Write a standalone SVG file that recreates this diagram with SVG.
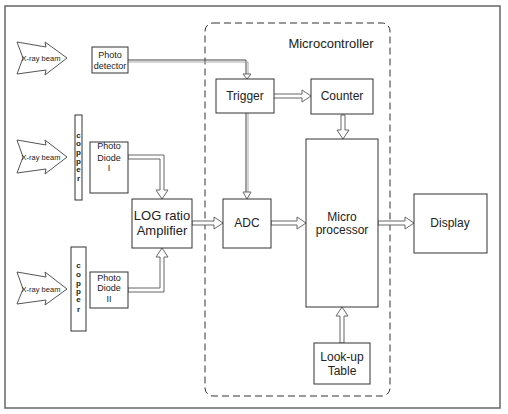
<svg xmlns="http://www.w3.org/2000/svg" width="508" height="414" viewBox="0 0 508 414">
<style>
.box{fill:#fff;stroke:#333;stroke-width:1}
.t{font-family:"Liberation Sans",Arial,sans-serif;fill:#222;text-anchor:middle}
.s9{font-size:9px}
.s12{font-size:12px}
.s13{font-size:13px}
.xr{fill:#fff;stroke:#555;stroke-width:1}
.ha{fill:#fff;stroke:#666;stroke-width:1}
.ln{fill:none;stroke:#444;stroke-width:1}
.ln2{fill:none;stroke:#aaa;stroke-width:1}
.cu{font-family:"Liberation Sans",Arial,sans-serif;font-size:8px;font-weight:bold;fill:#222;text-anchor:middle}
</style>
<rect x="0" y="0" width="508" height="414" fill="#fff"/>
<rect x="5" y="6" width="495" height="402" fill="none" stroke="#666" stroke-width="1.5"/>

<g id="microcontroller">
<rect x="205" y="23" width="185" height="373" rx="8" fill="none" stroke="#333" stroke-width="1" stroke-dasharray="7,4"/>
<text class="t s13" x="331" y="48">Microcontroller</text>
</g>

<g id="connectors">
<!-- photo detector -> trigger -->
<path class="ln" d="M128,60 H246 V76"/>
<path class="ln2" d="M128,62 H248 V76"/>
<path class="ha" d="M243,74 L251,74 L247,79 Z"/>
<!-- trigger -> ADC -->
<path class="ln" d="M246,113 V192"/>
<path class="ln2" d="M248,113 V192"/>
<path class="ha" d="M243,192 L251,192 L247,199 Z"/>
<!-- trigger -> counter -->
<path class="ha" d="M273,94 H302 V90 L311,96 L302,102 V98 H273 Z"/>
<!-- counter -> micro -->
<path class="ha" d="M341,115 V130 H337 L343,139 L349,130 H345 V115 Z"/>
<!-- photodiode I -> LOG -->
<path class="ha" d="M128,155 H164 V190 H168 L162,199 L156,190 H160 V159 H128 Z"/>
<!-- photodiode II -> LOG -->
<path class="ha" d="M128,292 H164 V257 H168 L162,248 L156,257 H160 V288 H128 Z"/>
<!-- LOG -> ADC -->
<path class="ha" d="M192,221 H214 V217 L223,223 L214,229 V225 H192 Z"/>
<!-- ADC -> micro -->
<path class="ha" d="M271,221 H297 V217 L306,223 L297,229 V225 H271 Z"/>
<!-- micro -> display -->
<path class="ha" d="M378,221 H405 V217 L414,223 L405,229 V225 H378 Z"/>
<!-- lookup -> micro -->
<path class="ha" d="M340,343 V316 H336 L342,307 L348,316 H344 V343 Z"/>
</g>

<g id="xray1">
<path class="xr" d="M17,42 L46,47 L45,42 L67,58 L45,75 L46,70 L17,74 L23,58 Z"/>
<text class="t" font-size="7.5" x="41" y="61">X-ray beam</text>
</g>
<g id="xray2">
<path class="xr" d="M17,140 L46,145 L45,140 L67,157 L45,174 L46,169 L17,173 L23,157 Z"/>
<text class="t" font-size="7.5" x="41" y="160">X-ray beam</text>
</g>
<g id="xray3">
<path class="xr" d="M17,272 L46,277 L45,272 L67,289 L45,305 L46,300 L17,304 L23,289 Z"/>
<text class="t" font-size="7.5" x="41" y="292">X-ray beam</text>
</g>

<g id="copper1">
<rect class="box" x="75" y="115" width="7" height="85"/>
<text class="cu" x="78.5" y="138">c</text>
<text class="cu" x="78.5" y="146">o</text>
<text class="cu" x="78.5" y="155">p</text>
<text class="cu" x="78.5" y="164">p</text>
<text class="cu" x="78.5" y="172">e</text>
<text class="cu" x="78.5" y="181">r</text>
</g>
<g id="copper2">
<rect class="box" x="71" y="247" width="15" height="84"/>
<text class="cu" x="78.5" y="268">c</text>
<text class="cu" x="78.5" y="277">o</text>
<text class="cu" x="78.5" y="286">p</text>
<text class="cu" x="78.5" y="294">p</text>
<text class="cu" x="78.5" y="302">e</text>
<text class="cu" x="78.5" y="312">r</text>
</g>

<g id="photodetector">
<rect class="box" x="92" y="47" width="36" height="26"/>
<text class="t s9" x="110" y="58">Photo</text>
<text class="t s9" x="110" y="69">detector</text>
</g>
<g id="photodiode1">
<rect class="box" x="90" y="142" width="38" height="51"/>
<text class="t s9" x="109" y="149">Photo</text>
<text class="t s9" x="109" y="161">Diode</text>
<text class="t s9" x="109" y="171">I</text>
</g>
<g id="photodiode2">
<rect class="box" x="90" y="272" width="38" height="36"/>
<text class="t s9" x="109" y="281">Photo</text>
<text class="t s9" x="109" y="291">Diode</text>
<text class="t s9" x="109" y="302">II</text>
</g>
<g id="logamp">
<rect class="box" x="132" y="199" width="60" height="49"/>
<text class="t s13" x="162" y="220">LOG ratio</text>
<text class="t s13" x="162" y="235">Amplifier</text>
</g>
<g id="trigger">
<rect class="box" x="216" y="79" width="58" height="34"/>
<text class="t s12" x="245" y="100">Trigger</text>
</g>
<g id="counter">
<rect class="box" x="311" y="79" width="62" height="35"/>
<text class="t s12" x="342" y="100">Counter</text>
</g>
<g id="adc">
<rect class="box" x="223" y="199" width="48" height="49"/>
<text class="t s12" x="247" y="227">ADC</text>
</g>
<g id="microprocessor">
<rect class="box" x="306" y="139" width="72" height="168"/>
<text class="t s12" x="342" y="221">Micro</text>
<text class="t s12" x="342" y="234">processor</text>
</g>
<g id="display">
<rect class="box" x="414" y="194" width="73" height="59"/>
<text class="t s12" x="450" y="227">Display</text>
</g>
<g id="lookup">
<rect class="box" x="314" y="343" width="56" height="41"/>
<text class="t s12" x="342" y="361">Look-up</text>
<text class="t s12" x="342" y="375">Table</text>
</g>
</svg>
